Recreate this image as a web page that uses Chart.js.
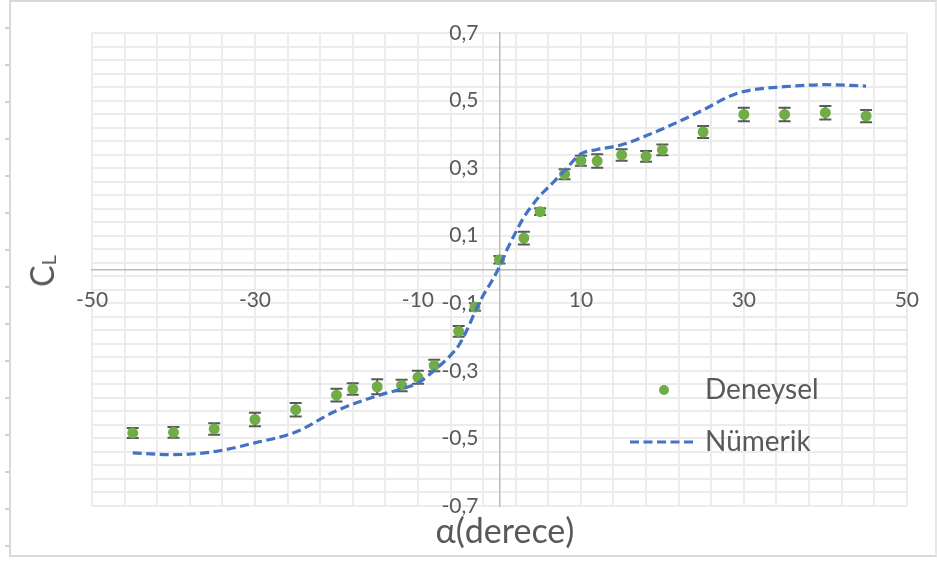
<!DOCTYPE html>
<html>
<head>
<meta charset="utf-8">
<script src="https://cdn.jsdelivr.net/npm/chart.js@4.4.1/dist/chart.umd.min.js"></script>
<style>
  html, body { margin: 0; padding: 0; background: #fff; }
  body { width: 937px; height: 561px; position: relative; overflow: hidden; font-family: Lato, "Noto Sans", sans-serif; }
  #frame { position: absolute; left: 9px; top: 0; width: 928px; height: 557px; border: 2px solid #d9d9d9; border-right-color: #e8e8e8; box-sizing: border-box; }
  #ruler { position: absolute; left: 5px; top: 27px; width: 4px; height: 530px;
           background: repeating-linear-gradient(to bottom, #d0d0d0 0 2px, transparent 2px 37px); }
  canvas { position: absolute; left: 0; top: 0; }
  .eksen { position: absolute; color: #595959; white-space: nowrap; line-height: 1; }
  #xBaslik { left: 505px; top: 530px; transform: translate(-50%, -50%); font-size: 34px; }
  #yBaslik { left: 42px; top: 271px; transform: translate(-50%, -50%) rotate(-90deg); font-size: 32px; }
  #yBaslik sub { font-size: 20px; vertical-align: -2px; }
</style>
</head>
<body>
<div id="frame"></div>
<div id="ruler"></div>
<canvas id="grafik" width="937" height="561"></canvas>
<div class="eksen" id="xBaslik">α(derece)</div>
<div class="eksen" id="yBaslik">C<sub>L</sub></div>
<script>
// deney noktaları (hücum açısı, CL ve hata payı)
const alpha = [-45, -40, -35, -30, -25, -20, -18, -15, -12, -10, -8, -5, -3, 0, 3, 5, 8, 10, 12, 15, 18, 20, 25, 30, 35, 40, 45];
const clDeneysel = [-0.484, -0.482, -0.472, -0.444, -0.415, -0.372, -0.354, -0.347, -0.343, -0.319, -0.284, -0.183, -0.111,
  0.029, 0.093, 0.171, 0.282, 0.322, 0.321, 0.339, 0.335, 0.354, 0.407, 0.459, 0.459, 0.464, 0.454];
const clHata = [0.015, 0.016, 0.017, 0.02, 0.02, 0.019, 0.017, 0.022, 0.017, 0.019, 0.017, 0.016, 0.011,
  0.011, 0.019, 0.01, 0.015, 0.015, 0.02, 0.017, 0.016, 0.016, 0.018, 0.02, 0.02, 0.02, 0.018];

// sayısal çözüm
const alphaNumerik = [-45, -40, -35, -30, -25, -20, -15, -12, -10, -8, -6, -5, -4, -3, -2, -1, 0, 1, 2, 3, 4, 5, 6,
  8, 10, 12, 15, 18, 20, 25, 28, 30, 35, 40, 45];
const clNumerik = [-0.543, -0.548, -0.539, -0.513, -0.481, -0.418, -0.374, -0.353, -0.336, -0.299, -0.254, -0.225, -0.18,
  -0.126, -0.077, -0.037, 0.008, 0.062, 0.11, 0.155, 0.189, 0.219, 0.243, 0.293, 0.342, 0.355, 0.369, 0.396, 0.416,
  0.472, 0.51, 0.527, 0.541, 0.547, 0.543];

// etiketli tikler
const xEtiketler = [-50, -30, -10, 10, 30, 50];
const yEtiketler = [-0.7, -0.5, -0.3, -0.1, 0.1, 0.3, 0.5, 0.7];

const YAZI = "Lato, 'Noto Sans', sans-serif";
const GRI = '#595959';
Chart.defaults.font.family = YAZI;
Chart.defaults.color = GRI;

const etiketMi = (liste, v) => liste.some(l => Math.abs(l - v) < 1e-6);

// y etiketleri ortadaki eksenin soluna, biraz boşlukla
const yEtiketCiz = {
  id: 'yEtiketCiz',
  beforeDatasetsDraw(chart) {
    const { ctx, scales: { x, y } } = chart;
    const sag = x.getPixelForValue(0) - 21;
    ctx.save();
    ctx.font = '21px ' + YAZI;
    ctx.fillStyle = GRI;
    ctx.textAlign = 'right';
    ctx.textBaseline = 'middle';
    yEtiketler.forEach(v => ctx.fillText(v.toFixed(1).replace('.', ','), sag, y.getPixelForValue(v)));
    ctx.restore();
  }
};

// hata çubukları noktaların arkasına çizilir
const hataCubuklari = {
  id: 'hataCubuklari',
  beforeDatasetsDraw(chart) {
    const { ctx, scales: { x, y } } = chart;
    ctx.save();
    ctx.strokeStyle = GRI;
    ctx.lineWidth = 2;
    alpha.forEach((a, i) => {
      const px = x.getPixelForValue(a);
      const ust = y.getPixelForValue(clDeneysel[i] + clHata[i]);
      const alt = y.getPixelForValue(clDeneysel[i] - clHata[i]);
      ctx.beginPath();
      ctx.moveTo(px, ust); ctx.lineTo(px, alt);
      ctx.moveTo(px - 6, ust); ctx.lineTo(px + 6, ust);
      ctx.moveTo(px - 6, alt); ctx.lineTo(px + 6, alt);
      ctx.stroke();
    });
    ctx.restore();
  }
};

// grafik alanının içindeki açıklama kutusu
const icLejant = {
  id: 'icLejant',
  afterDraw(chart) {
    const { ctx, chartArea } = chart;
    const [cizgi, nokta] = chart.data.datasets;
    const metinX = chartArea.left + 613;
    const satir1 = chartArea.top + 357;
    const satir2 = chartArea.top + 409;
    ctx.save();
    ctx.font = '28px ' + YAZI;
    ctx.textBaseline = 'middle';

    ctx.beginPath();
    ctx.arc(metinX - 41, satir1, 5, 0, Math.PI * 2);
    ctx.fillStyle = nokta.backgroundColor;
    ctx.fill();
    ctx.fillStyle = GRI;
    ctx.fillText(nokta.label, metinX, satir1);

    ctx.beginPath();
    ctx.strokeStyle = cizgi.borderColor;
    ctx.lineWidth = cizgi.borderWidth;
    ctx.setLineDash(cizgi.borderDash);
    ctx.moveTo(metinX - 75, satir2);
    ctx.lineTo(metinX - 8, satir2);
    ctx.stroke();
    ctx.setLineDash([]);
    ctx.fillText(cizgi.label, metinX, satir2);
    ctx.restore();
  }
};

new Chart(document.getElementById('grafik'), {
  data: {
    datasets: [
      {
        type: 'line',
        label: 'Nümerik',
        data: alphaNumerik.map((a, i) => ({ x: a, y: clNumerik[i] })),
        borderColor: '#4472C4',
        borderWidth: 3.2,
        borderDash: [9, 4.5],
        cubicInterpolationMode: 'monotone',
        pointRadius: 0,
        fill: false
      },
      {
        type: 'scatter',
        label: 'Deneysel',
        data: alpha.map((a, i) => ({ x: a, y: clDeneysel[i] })),
        backgroundColor: '#70AD47',
        borderColor: '#70AD47',
        pointRadius: 5.5,
        pointBorderWidth: 0
      }
    ]
  },
  options: {
    responsive: false,
    animation: false,
    layout: { padding: { left: 92, right: 30, top: 33, bottom: 55 }, autoPadding: false },
    plugins: { legend: { display: false }, tooltip: { enabled: false } },
    scales: {
      x: {
        type: 'linear',
        position: { y: 0 },
        min: -50,
        max: 50,
        afterFit: s => { s.height = 0; },
        grid: { color: '#ececec', lineWidth: 2, drawTicks: false },
        border: { color: '#bcbcbc', width: 1.5 },
        ticks: {
          stepSize: 4,
          autoSkip: false,
          maxRotation: 0,
          padding: 18,
          font: { size: 21 },
          color: GRI,
          callback: v => etiketMi(xEtiketler, v) ? String(Math.round(v)) : ''
        }
      },
      y: {
        type: 'linear',
        position: { x: 0 },
        min: -0.7,
        max: 0.7,
        afterFit: s => { s.width = 0; },
        grid: { color: '#ececec', lineWidth: 2, drawTicks: false },
        border: { color: '#bcbcbc', width: 1.5 },
        ticks: { stepSize: 0.04, autoSkip: false, display: false }
      }
    }
  },
  plugins: [yEtiketCiz, hataCubuklari, icLejant]
});
</script>
</body>
</html>
